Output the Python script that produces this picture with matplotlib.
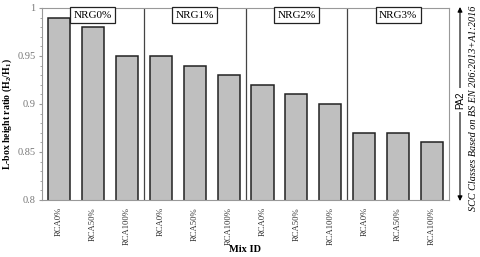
import numpy as np
import matplotlib.pyplot as plt
from matplotlib.ticker import MultipleLocator

plt.rcParams['font.family'] = ['Liberation Serif', 'DejaVu Serif']

# data
groups = ['NRG0%', 'NRG1%', 'NRG2%', 'NRG3%']
mixes = ['RCA0%', 'RCA50%', 'RCA100%']
ratios = [0.99, 0.98, 0.95,
          0.95, 0.94, 0.93,
          0.92, 0.91, 0.90,
          0.87, 0.87, 0.86]

labels = mixes * len(groups)
x = np.arange(len(ratios))

fig = plt.figure(figsize=(4.8, 2.57), dpi=100)
ax = fig.add_axes([0.0875, 0.222, 0.848, 0.747])

ax.bar(x, ratios, width=0.65, color='#bfbfbf', edgecolor='#222222', linewidth=1.1)

ax.set_xlim(-0.5, len(ratios) - 0.5)
ax.set_ylim(0.8, 1.0)
ax.yaxis.set_minor_locator(MultipleLocator(0.01))
ax.set_yticks([0.8, 0.85, 0.9, 0.95, 1.0])
ax.set_yticklabels(['0.8', '0.85', '0.9', '0.95', '1'])
ax.set_xticks(x)
ax.set_xticklabels(labels, rotation=90, fontsize=6.2, color='#333333')
ax.tick_params(axis='y', labelsize=7.5, labelcolor='#777777', color='#999999', length=2.5, pad=2)
ax.tick_params(axis='y', which='minor', length=1.5, color='#999999')
ax.tick_params(axis='x', length=0, pad=5)
for s in ax.spines.values():
    s.set_color('#999999')
    s.set_linewidth(0.8)

# group separators and boxed labels
for i in range(1, len(groups)):
    ax.axvline(i * 3 - 0.5, color='#444444', linewidth=0.9)
for i, g in enumerate(groups):
    ax.text(i * 3 + 1, 0.9925, g, ha='center', va='center', fontsize=8,
            bbox=dict(boxstyle='square,pad=0.3', facecolor='white', edgecolor='#222222', linewidth=0.9))

fig.text(7 / 480, 1 - 114 / 257, 'L-box height ratio (H$_\\mathregular{2}$/H$_\\mathregular{1}$)',
         rotation=90, ha='center', va='center', fontsize=7, fontweight='bold')
fig.text(245 / 480, 1 - 250 / 257, 'Mix ID', ha='center', va='center', fontsize=7.5, fontweight='bold')

# PA2 class arrow on the right
ax.annotate('', xy=(460 / 480, 1 - 7 / 257), xytext=(460 / 480, 1 - 201 / 257),
            xycoords='figure fraction', textcoords='figure fraction',
            arrowprops=dict(arrowstyle='<|-|>', color='black', linewidth=0.8,
                            mutation_scale=7, shrinkA=0, shrinkB=0))
fig.text(460 / 480, 1 - 100 / 257, 'PA2', rotation=90, ha='center', va='center', fontsize=7,
         family=['Liberation Sans', 'DejaVu Sans'],
         bbox=dict(facecolor='white', edgecolor='none', pad=2))
fig.text(474 / 480, 1 - 108 / 257, 'SCC Classes Based on BS EN 206:2013+A1:2016', rotation=90,
         ha='center', va='center', fontsize=7.3, style='italic')

fig.savefig('out.png', dpi=100)
